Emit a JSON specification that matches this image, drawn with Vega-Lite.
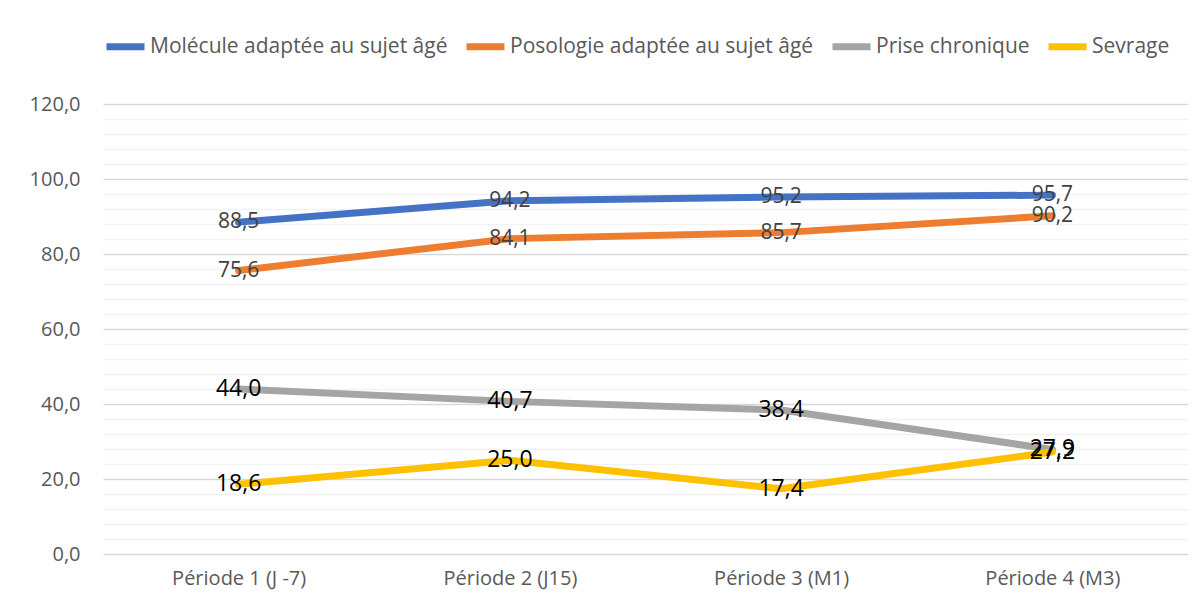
{
  "$schema": "https://vega.github.io/schema/vega-lite/v6.json",
  "width": 1085,
  "height": 450,
  "autosize": {"type": "none"},
  "padding": {"left": 103, "top": 104, "right": 16, "bottom": 52},
  "background": "white",
  "config": {
    "view": {"stroke": null},
    "locale": {"number": {"decimal": ",", "thousands": " ", "grouping": [3], "currency": ["", " €"]}},
    "font": "Open Sans"
  },
  "data": {
    "values": [
      {"periode": "Période 1 (J -7)", "serie": "Molécule adaptée au sujet âgé", "valeur": 88.5},
      {"periode": "Période 2 (J15)", "serie": "Molécule adaptée au sujet âgé", "valeur": 94.2},
      {"periode": "Période 3 (M1)", "serie": "Molécule adaptée au sujet âgé", "valeur": 95.2},
      {"periode": "Période 4 (M3)", "serie": "Molécule adaptée au sujet âgé", "valeur": 95.7},
      {"periode": "Période 1 (J -7)", "serie": "Posologie adaptée au sujet âgé", "valeur": 75.6},
      {"periode": "Période 2 (J15)", "serie": "Posologie adaptée au sujet âgé", "valeur": 84.1},
      {"periode": "Période 3 (M1)", "serie": "Posologie adaptée au sujet âgé", "valeur": 85.7},
      {"periode": "Période 4 (M3)", "serie": "Posologie adaptée au sujet âgé", "valeur": 90.2},
      {"periode": "Période 1 (J -7)", "serie": "Prise chronique", "valeur": 44.0},
      {"periode": "Période 2 (J15)", "serie": "Prise chronique", "valeur": 40.7},
      {"periode": "Période 3 (M1)", "serie": "Prise chronique", "valeur": 38.4},
      {"periode": "Période 4 (M3)", "serie": "Prise chronique", "valeur": 27.9},
      {"periode": "Période 1 (J -7)", "serie": "Sevrage", "valeur": 18.6},
      {"periode": "Période 2 (J15)", "serie": "Sevrage", "valeur": 25.0},
      {"periode": "Période 3 (M1)", "serie": "Sevrage", "valeur": 17.4},
      {"periode": "Période 4 (M3)", "serie": "Sevrage", "valeur": 27.2}
    ]
  },
  "encoding": {
    "x": {
      "field": "periode", "type": "nominal", "sort": null,
      "scale": {"type": "point", "padding": 0.5},
      "axis": {"title": null, "labelAngle": 0, "labelFontSize": 20, "labelColor": "#595959", "labelPadding": 14, "ticks": false, "domain": false, "grid": false}
    },
    "y": {
      "field": "valeur", "type": "quantitative",
      "scale": {"domain": [0, 120], "nice": false, "zero": true},
      "axis": {
        "title": null,
        "values": [0, 4, 8, 12, 16, 20, 24, 28, 32, 36, 40, 44, 48, 52, 56, 60, 64, 68, 72, 76, 80, 84, 88, 92, 96, 100, 104, 108, 112, 116, 120],
        "labelExpr": "datum.value % 20 === 0 ? format(datum.value, '.1f') : ''",
        "labelFontSize": 20, "labelColor": "#595959", "labelPadding": 23,
        "ticks": false, "domain": false,
        "grid": true,
        "gridColor": {"condition": {"test": "datum.value % 20 === 0", "value": "#D9D9D9"}, "value": "#F2F2F2"},
        "gridWidth": 1.5
      }
    }
  },
  "layer": [
    {
      "mark": {"type": "line", "strokeCap": "round", "strokeJoin": "round"},
      "encoding": {
        "color": {
          "field": "serie", "type": "nominal", "sort": null,
          "scale": {"domain": ["Molécule adaptée au sujet âgé", "Posologie adaptée au sujet âgé", "Prise chronique", "Sevrage"], "range": ["#4472C4", "#ED7D31", "#A5A5A5", "#FFC000"]},
          "legend": {
            "title": null, "orient": "none", "legendX": 0, "legendY": -80, "direction": "horizontal",
            "symbolType": "stroke", "symbolSize": 1444, "labelFontSize": 21, "labelColor": "#595959",
            "labelOffset": 2, "columnPadding": 4, "labelLimit": 400
          }
        },
        "strokeWidth": {
          "field": "serie", "type": "nominal", "sort": null,
          "scale": {"domain": ["Molécule adaptée au sujet âgé", "Posologie adaptée au sujet âgé", "Prise chronique", "Sevrage"], "range": [7, 7, 3.2, 3.2]},
          "legend": {
            "title": null, "orient": "none", "legendX": 0, "legendY": -80, "direction": "horizontal",
            "symbolType": "stroke", "symbolSize": 1444, "labelFontSize": 21, "labelColor": "#595959",
            "labelOffset": 2, "columnPadding": 4, "labelLimit": 400
          }
        },
        "detail": {"field": "serie"}
      }
    },
    {
      "transform": [{"filter": "datum.serie === 'Molécule adaptée au sujet âgé' || datum.serie === 'Posologie adaptée au sujet âgé'"}],
      "mark": {"type": "text", "fontSize": 21, "color": "#404040", "align": "center", "baseline": "middle"},
      "encoding": {"text": {"field": "valeur", "type": "quantitative", "format": ".1f"}}
    },
    {
      "transform": [{"filter": "datum.serie === 'Prise chronique' || datum.serie === 'Sevrage'"}],
      "mark": {"type": "text", "fontSize": 23, "color": "#000000", "align": "center", "baseline": "middle"},
      "encoding": {"text": {"field": "valeur", "type": "quantitative", "format": ".1f"}}
    }
  ]
}
